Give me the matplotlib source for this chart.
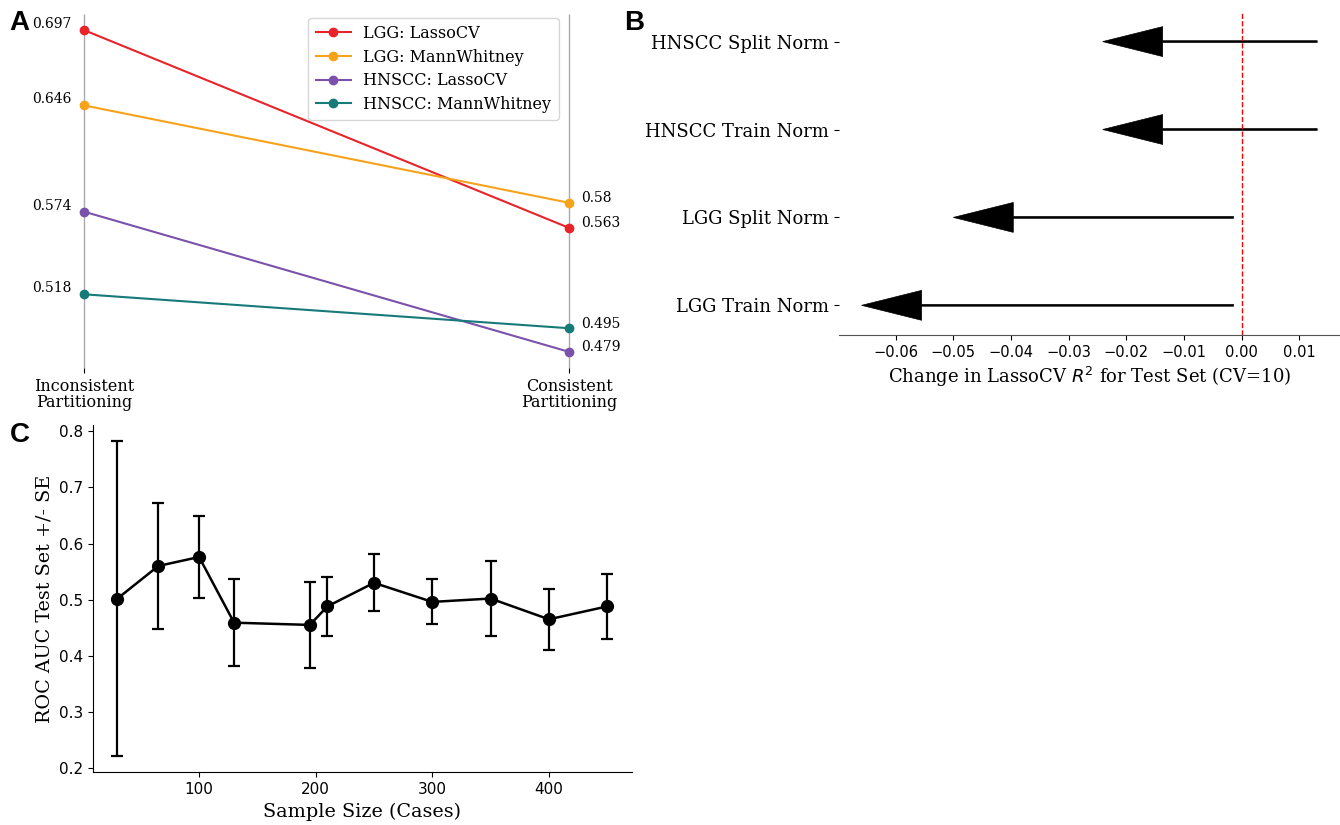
import numpy as np
import matplotlib
matplotlib.use('Agg')
import matplotlib.pyplot as plt

SERIF = 'DejaVu Serif'

# panel A: slope chart
slope_labels = ['LGG: LassoCV', 'LGG: MannWhitney', 'HNSCC: LassoCV', 'HNSCC: MannWhitney']
inconsistent = [0.697, 0.646, 0.574, 0.518]
consistent = [0.563, 0.58, 0.479, 0.495]
slope_colors = ['#e8232a', '#f7a21b', '#7b52ab', '#167a78']
slope_ticks = ['Inconsistent\nPartitioning', 'Consistent\nPartitioning']

# panel B: change in R2 (arrow start -> arrow head base)
norm_labels = ['LGG Train Norm', 'LGG Split Norm', 'HNSCC Train Norm', 'HNSCC Split Norm']
r2_start = [-0.0014, -0.0014, 0.0131, 0.0131]
r2_end = [-0.0555, -0.0396, -0.0137, -0.0137]

# panel C: sample size
sample_size = [30, 65, 100, 130, 195, 210, 250, 300, 350, 400, 450]
auc_mean = [0.502, 0.560, 0.576, 0.459, 0.455, 0.488, 0.530, 0.496, 0.502, 0.465, 0.488]
auc_se = [0.281, 0.112, 0.073, 0.078, 0.077, 0.052, 0.051, 0.040, 0.067, 0.054, 0.058]

fig = plt.figure(figsize=(13.4, 8.25), dpi=100)

# ---- A ----
axA = fig.add_axes([0.0627, 0.554, 0.362, 0.429])
for lab, a, b, c in zip(slope_labels, inconsistent, consistent, slope_colors):
    axA.plot([0, 1], [a, b], '-o', color=c, label=lab, lw=1.5, ms=6, clip_on=False, zorder=3)
    axA.text(-0.025, a + 0.004, str(a), ha='right', va='center', fontsize=10, family=SERIF)
    axA.text(1.025, b + 0.003, str(b), ha='left', va='center', fontsize=10, family=SERIF)
lo = min(inconsistent + consistent)
hi = max(inconsistent + consistent)
pad = (hi - lo) * 0.05
axA.set_ylim(lo - pad, hi + pad)
axA.set_xlim(0, 1)
axA.vlines([0, 1], lo - pad, hi + pad, color='#aaaaaa', lw=1, zorder=1, clip_on=False)
for s in axA.spines.values():
    s.set_visible(False)
axA.set_yticks([])
axA.set_xticks([0, 1])
axA.set_xticklabels(slope_ticks, family=SERIF, fontsize=11.5, linespacing=0.95)
axA.legend(loc='upper right', bbox_to_anchor=(0.995, 1.012), prop={'family': SERIF, 'size': 11.5},
           borderpad=0.45, handlelength=2.2, labelspacing=0.42)

# ---- B ----
axB = fig.add_axes([0.626, 0.594, 0.374, 0.3915])
for i, (s0, s1) in enumerate(zip(r2_start, r2_end)):
    axB.arrow(s0, i, s1 - s0, 0, width=0.02, head_width=0.34, head_length=0.0104,
              fc='black', ec='black', lw=0.5)
axB.axvline(0, color='red', ls='--', lw=1)
axB.set_yticks(range(len(norm_labels)))
axB.set_yticklabels(norm_labels, family=SERIF, fontsize=13)
axB.set_xticks(np.arange(-0.06, 0.011, 0.01))
axB.tick_params(axis='x', labelsize=10.5)
axB.set_xlabel('Change in LassoCV $R^2$ for Test Set (CV=10)', family=SERIF, fontsize=13)
for k in ['top', 'right', 'left']:
    axB.spines[k].set_visible(False)
axB.spines['bottom'].set_color('#555555')

# ---- C ----
axC = fig.add_axes([0.0694, 0.0642, 0.402, 0.4206])
axC.errorbar(sample_size, auc_mean, yerr=auc_se, fmt='-o', color='black', capsize=4,
             ms=8.5, lw=1.8, elinewidth=1.6, capthick=1.6)
axC.set_xlabel('Sample Size (Cases)', family=SERIF, fontsize=13.8)
axC.set_ylabel('ROC AUC Test Set +/- SE', family=SERIF, fontsize=13.8)
axC.tick_params(labelsize=11)
axC.spines['top'].set_visible(False)
axC.spines['right'].set_visible(False)

# panel letters
for lab, x, y in [('A', 0.007, 0.988), ('B', 0.466, 0.988), ('C', 0.007, 0.488)]:
    fig.text(x, y, lab, fontsize=20, fontweight='bold', family='Liberation Sans', va='top')

plt.savefig('out.png', dpi=100)
